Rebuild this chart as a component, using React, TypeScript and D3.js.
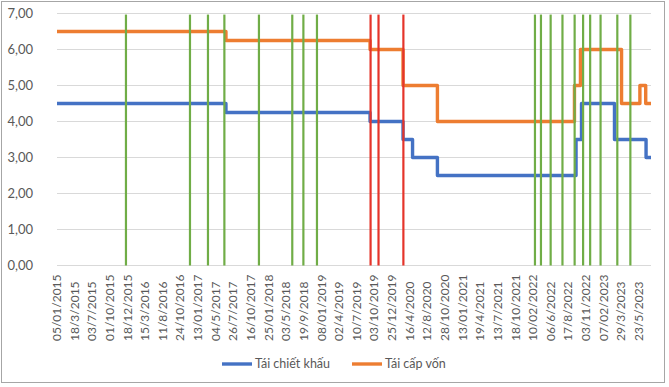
import React from 'react';
import * as d3 from 'd3';

// category labels shown on the date axis (every k-th trading day)
const tickLabels = [
  '05/01/2015', '18/3/2015', '03/7/2015', '01/10/2015', '18/12/2015', '15/3/2016',
  '11/8/2016', '24/10/2016', '13/01/2017', '04/5/2017', '26/7/2017', '16/10/2017',
  '25/01/2018', '03/5/2018', '19/9/2018', '08/01/2019', '02/4/2019', '10/7/2019',
  '03/10/2019', '25/12/2019', '16/4/2020', '12/8/2020', '28/10/2020', '13/01/2021',
  '19/4/2021', '13/7/2021', '18/10/2021', '10/02/2022', '06/6/2022', '17/8/2022',
  '03/11/2022', '07/02/2023', '29/3/2023', '23/5/2023',
];
// last data point sits a bit after the last label
const axisEnd = 33.68;

// positions are in label steps along the category axis
const discountPos = [0, 9.58, 17.75, 19.62, 20.16, 21.57, 29.43, 29.74, 31.61, 33.4, axisEnd];
const discountVal = [4.5, 4.25, 4.0, 3.5, 3.0, 2.5, 3.5, 4.5, 3.5, 3.0, 3.0];

const refinPos = [0, 9.58, 17.75, 19.62, 21.57, 29.34, 29.68, 32.01, 33.05, 33.38, axisEnd];
const refinVal = [6.5, 6.25, 6.0, 5.0, 4.0, 5.0, 6.0, 4.5, 5.0, 4.5, 4.5];

const greenMarks = [3.91, 7.54, 8.56, 9.49, 11.45, 13.34, 13.97, 14.74,
  27.1, 27.44, 27.99, 28.66, 29.35, 29.83, 30.23, 30.82, 31.77, 32.51];
const redMarks = [17.78, 18.23, 19.64];

const yTicks = [0, 1, 2, 3, 4, 5, 6, 7];

const seriesNames = ['Tái chiết khấu', 'Tái cấp vốn'];
const seriesColors = ['#4472C4', '#ED7D31'];

const W = 669, H = 387;
const font = 'Lato, "Open Sans", sans-serif';

const vi = d3.formatLocale({ decimal: ',', thousands: '.', grouping: [3], currency: ['', ''] });
const fmt = vi.format('.2f');

export default function App() {
  const x = d3.scaleLinear().domain([0, axisEnd]).range([57, 651]);
  const y = d3.scaleLinear().domain([0, 7]).range([265.5, 13.5]);

  const line = d3.line<[number, number]>()
    .x(d => x(d[0]))
    .y(d => y(d[1]))
    .curve(d3.curveStepAfter);

  const series = [
    discountPos.map((p, i) => [p, discountVal[i]] as [number, number]),
    refinPos.map((p, i) => [p, refinVal[i]] as [number, number]),
  ];

  return (
    <svg width={W} height={H} style={{ position: 'absolute', left: 0, top: 0, background: '#fff' }}
      fontFamily={font}>
      <rect x={1.5} y={1.5} width={663} height={381} fill="#fff" stroke="#A6A6A6" />
      {/* gridlines + y labels */}
      {yTicks.map(t => (
        <g key={t}>
          <line x1={57} x2={651} y1={y(t)} y2={y(t)} stroke="#D9D9D9" strokeWidth={1} />
          <text x={33} y={y(t)} dy="0.35em" textAnchor="end" fontSize={13} fill="#595959">{fmt(t)}</text>
        </g>
      ))}
      {/* x labels */}
      {tickLabels.map((l, i) => (
        <text key={l} transform={`translate(${x(i) + 4},341) rotate(-90)`} textAnchor="start"
          fontSize={12} fill="#595959">{l}</text>
      ))}
      {/* rate lines */}
      {series.map((s, i) => (
        <path key={i} d={line(s) || ''} fill="none" stroke={seriesColors[i]} strokeWidth={3.4}
          strokeLinejoin="round" />
      ))}
      {/* event markers */}
      {greenMarks.map((p, i) => (
        <line key={'g' + i} x1={x(p)} x2={x(p)} y1={y(0)} y2={y(6.97)} stroke="#70AD47" strokeWidth={2.2} />
      ))}
      {redMarks.map((p, i) => (
        <line key={'r' + i} x1={x(p)} x2={x(p)} y1={y(0)} y2={y(6.97)} stroke="#E5342A" strokeWidth={2.2} />
      ))}
      {/* legend */}
      {seriesNames.map((n, i) => {
        const lx = i === 0 ? 222 : 352;
        return (
          <g key={n}>
            <line x1={lx} x2={lx + 30} y1={364} y2={364} stroke={seriesColors[i]} strokeWidth={3.4} />
            <text x={lx + 33} y={364} dy="0.35em" fontSize={12.5} fill="#595959">{n}</text>
          </g>
        );
      })}
    </svg>
  );
}
